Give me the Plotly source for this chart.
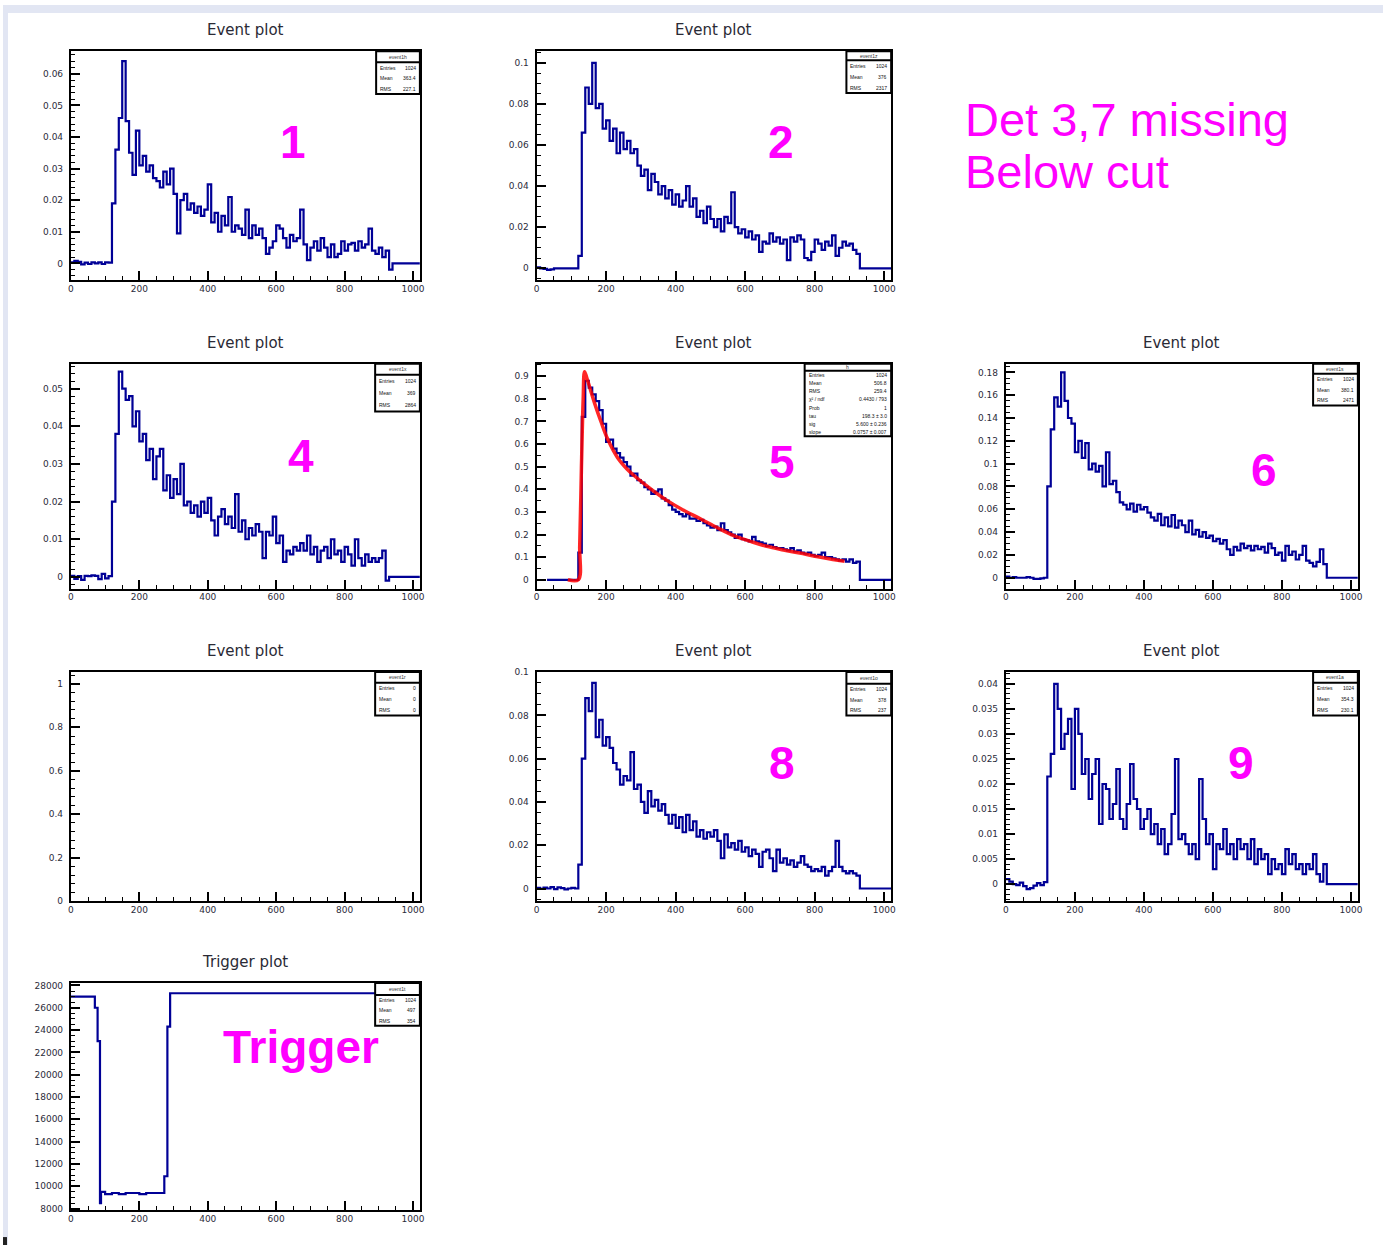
import plotly.graph_objects as go

FIG_W, FIG_H = 1388, 1250
STEP = 10          # sample spacing of the waveform histograms
X_END = 1020       # right end of the time axis

# ---- detector waveforms (one value per 10-unit bin, starting at x=0) ----
det1 = [
    0.0003, 0.0008, 0.0005, -0.0003, 0.0002, -0.0002, 0.0003, 0.0000, 0.0003, -0.0002, 0.0003, 0.0002,
    0.019, 0.036, 0.046, 0.064, 0.045, 0.035, 0.028, 0.042, 0.031, 0.034,
    0.029, 0.031, 0.027, 0.026, 0.024, 0.029, 0.025, 0.030, 0.022, 0.0095,
    0.020, 0.022, 0.017, 0.019, 0.016, 0.018, 0.015, 0.017, 0.025, 0.013,
    0.016, 0.010, 0.015, 0.012, 0.021, 0.010, 0.012, 0.011, 0.009, 0.017,
    0.008, 0.012, 0.009, 0.011, 0.008, 0.003, 0.005, 0.007, 0.012, 0.011,
    0.008, 0.005, 0.009, 0.007, 0.008, 0.017, 0.006, 0.001, 0.005, 0.007,
    0.004, 0.008, 0.005, 0.002, 0.006, 0.002, 0.003, 0.007, 0.004, 0.006,
    0.0065, 0.004, 0.007, 0.005, 0.006, 0.011, 0.004, 0.003, 0.005, 0.002,
    0.004, -0.002,
]
det2 = [
    0.0005, 0.0, -0.0003, -0.0008, -0.0005, 0.0, 0.0, 0.0, 0.0, 0.0, 0.0, 0.0,
    0.006, 0.066, 0.088, 0.080, 0.100, 0.078, 0.080, 0.068, 0.072, 0.062,
    0.068, 0.056, 0.066, 0.058, 0.062, 0.056, 0.058, 0.050, 0.045, 0.048,
    0.038, 0.046, 0.042, 0.036, 0.040, 0.034, 0.038, 0.031, 0.036, 0.030,
    0.033, 0.040, 0.030, 0.034, 0.025, 0.028, 0.022, 0.030, 0.024, 0.020,
    0.024, 0.018, 0.025, 0.022, 0.037, 0.020, 0.017, 0.019, 0.015, 0.018,
    0.014, 0.016, 0.008, 0.013, 0.012, 0.017, 0.013, 0.015, 0.012, 0.014,
    0.004, 0.015, 0.013, 0.016, 0.014, 0.005, 0.004, 0.008, 0.014, 0.012,
    0.009, 0.013, 0.011, 0.016, 0.006, 0.010, 0.013, 0.011, 0.012, 0.009, 0.007,
]
det4 = [
    0.0003, -0.0005, 0.0002, -0.0008, 0.0003, 0.0002, 0.0004, 0.0003, -0.0006, 0.0008, -0.0004, 0.0002,
    0.020, 0.038, 0.0545, 0.050, 0.047, 0.048, 0.040, 0.044, 0.036, 0.038,
    0.031, 0.034, 0.026, 0.032, 0.034, 0.023, 0.027, 0.021, 0.026, 0.022,
    0.030, 0.019, 0.020, 0.017, 0.019, 0.016, 0.020, 0.017, 0.021, 0.015,
    0.011, 0.016, 0.018, 0.014, 0.016, 0.013, 0.022, 0.012, 0.015, 0.010,
    0.013, 0.011, 0.014, 0.012, 0.005, 0.012, 0.011, 0.016, 0.009, 0.011,
    0.004, 0.007, 0.006, 0.008, 0.007, 0.009, 0.007, 0.011, 0.006, 0.008,
    0.004, 0.007, 0.008, 0.005, 0.010, 0.006, 0.007, 0.004, 0.008, 0.006,
    0.003, 0.010, 0.005, 0.003, 0.006, 0.004, 0.005, 0.004, 0.005, 0.007, -0.001,
]
det5_start = 30
det5 = [
    0.0, 0.0, 0.0, 0.0, 0.0, 0.0, 0.0, 0.0, 0.0,
    0.12, 0.72, 0.88, 0.85, 0.82, 0.79, 0.75, 0.69, 0.61, 0.62,
    0.58, 0.56, 0.54, 0.52, 0.50, 0.46, 0.47, 0.44, 0.43, 0.41,
    0.40, 0.38, 0.39, 0.40, 0.36, 0.35, 0.33, 0.31, 0.30, 0.29,
    0.28, 0.29, 0.27, 0.27, 0.26, 0.265, 0.25, 0.24, 0.23, 0.235,
    0.22, 0.25, 0.22, 0.21, 0.20, 0.185, 0.20, 0.18, 0.175, 0.17,
    0.19, 0.17, 0.165, 0.16, 0.15, 0.155, 0.145, 0.14, 0.14, 0.135,
    0.13, 0.14, 0.125, 0.13, 0.12, 0.115, 0.12, 0.11, 0.105, 0.11,
    0.12, 0.10, 0.10, 0.095, 0.09, 0.085, 0.09, 0.08, 0.09, 0.075, 0.08,
]
det6 = [
    0.001, 0.0, 0.0005, 0.0, 0.0, 0.0, 0.0005, 0.0, -0.001, -0.001, -0.0005, 0.0,
    0.08, 0.13, 0.158, 0.15, 0.18, 0.155, 0.14, 0.135, 0.11, 0.12,
    0.105, 0.118, 0.095, 0.10, 0.093, 0.098, 0.08, 0.11, 0.082, 0.085,
    0.075, 0.066, 0.064, 0.060, 0.065, 0.058, 0.064, 0.060, 0.062, 0.057,
    0.053, 0.050, 0.056, 0.046, 0.053, 0.045, 0.055, 0.044, 0.050, 0.046,
    0.040, 0.050, 0.038, 0.042, 0.036, 0.040, 0.035, 0.037, 0.032, 0.034,
    0.030, 0.033, 0.025, 0.020, 0.027, 0.024, 0.030, 0.026, 0.028, 0.024,
    0.028, 0.025, 0.027, 0.022, 0.030, 0.026, 0.020, 0.022, 0.015, 0.028,
    0.020, 0.023, 0.016, 0.020, 0.028, 0.015, 0.013, 0.010, 0.014, 0.025, 0.012,
]
det8 = [
    0.0003, -0.0002, 0.0004, 0.0, 0.0006, -0.0003, 0.0005, 0.0002, -0.0004, 0.0, 0.0003, 0.0,
    0.011, 0.060, 0.088, 0.082, 0.095, 0.070, 0.078, 0.066, 0.070, 0.065,
    0.058, 0.055, 0.048, 0.052, 0.050, 0.063, 0.046, 0.048, 0.040, 0.035,
    0.045, 0.038, 0.041, 0.036, 0.039, 0.034, 0.030, 0.034, 0.028, 0.033,
    0.026, 0.034, 0.027, 0.031, 0.024, 0.027, 0.023, 0.026, 0.024, 0.027,
    0.022, 0.014, 0.025, 0.019, 0.021, 0.018, 0.022, 0.017, 0.019, 0.015,
    0.018, 0.016, 0.010, 0.017, 0.018, 0.014, 0.008, 0.018, 0.012, 0.014,
    0.011, 0.013, 0.010, 0.012, 0.015, 0.011, 0.010, 0.008, 0.009, 0.008,
    0.010, 0.006, 0.008, 0.010, 0.022, 0.010, 0.008, 0.007, 0.008, 0.007, 0.006,
]
det9 = [
    0.001, 0.0005, 0.0, -0.0002, 0.0003, -0.0004, -0.001, -0.0008, -0.0003, 0.0002, -0.0002, 0.0004,
    0.0215, 0.026, 0.040, 0.035, 0.027, 0.030, 0.033, 0.019, 0.035, 0.030,
    0.022, 0.025, 0.017, 0.022, 0.025, 0.012, 0.020, 0.019, 0.013, 0.016,
    0.023, 0.013, 0.011, 0.016, 0.024, 0.017, 0.015, 0.011, 0.013, 0.015,
    0.010, 0.012, 0.008, 0.011, 0.006, 0.008, 0.014, 0.025, 0.009, 0.010,
    0.008, 0.006, 0.008, 0.005, 0.021, 0.013, 0.008, 0.010, 0.003, 0.008,
    0.007, 0.011, 0.006, 0.008, 0.005, 0.009, 0.007, 0.008, 0.005, 0.009,
    0.004, 0.007, 0.005, 0.006, 0.002, 0.005, 0.003, 0.004, 0.002, 0.007,
    0.004, 0.006, 0.003, 0.004, 0.002, 0.004, 0.003, 0.006, 0.002, 0.0005, 0.004,
]

# fitted pulse shape over detector 5
fit5_x = [90, 120, 124, 129, 134, 138, 145, 167, 185, 205, 233, 260, 281, 330, 376,
          420, 471, 520, 567, 615, 662, 710, 757, 805, 852, 886]
fit5_y = [0.0, 0.0, 0.15, 0.50, 0.80, 0.92, 0.89, 0.78, 0.70, 0.62, 0.54, 0.49, 0.46, 0.40, 0.35,
          0.31, 0.27, 0.23, 0.195, 0.17, 0.148, 0.132, 0.118, 0.103, 0.09, 0.082]

# trigger level (bin start, value)
trig_x = [0, 70, 78, 85, 88, 100, 120, 140, 160, 180, 200, 220, 240, 273, 282, 290]
trig_y = [27000, 26000, 23000, 8500, 9500, 9300, 9400, 9300, 9400, 9400, 9300, 9400, 9400,
          10900, 24300, 27300]
trig_tail = 27000

# ---- page geometry (pixels) ----
COLS = {1: (68.3, 419.3), 2: (536.7, 893.3), 3: (1008.7, 1362.7)}
ROWS = {1: (46.7, 277.0), 2: (361.7, 588.3), 3: (672.3, 903.3), 4: (986.0, 1215.0)}

def px(x):
    return x / FIG_W

def py(y):
    return 1 - y / FIG_H

BLUE = "#000096"
MAGENTA = "#ff00ff"
TICK_FONT = dict(family="DejaVu Sans, Verdana, sans-serif", size=9, color="#2b2b3a")
TITLE_FONT = dict(family="DejaVu Sans, Verdana, sans-serif", size=15, color="#2a2a35")

panels = [
    # key, row, col, y-range, dtick, minor, title, stats header, stats rows, box (w, h, header)
    dict(key="1", row=1, col=1, yr=[-0.0052, 0.0671], dt=0.01, mn=0.002, title="Event plot",
         head="event1h", stats=[("Entries", "1024"), ("Mean", "363.4"), ("RMS", "227.1")],
         box=(44, 43, 11), tag=(292, 138)),
    dict(key="2", row=1, col=2, yr=[-0.0056, 0.1056], dt=0.02, mn=0.005, title="Event plot",
         head="event1z", stats=[("Entries", "1024"), ("Mean", "376"), ("RMS", "2317")],
         box=(45, 42, 9), tag=(783, 138)),
    dict(key="4", row=2, col=1, yr=[-0.0031, 0.0566], dt=0.01, mn=0.002, title="Event plot",
         head="event1x", stats=[("Entries", "1024"), ("Mean", "369"), ("RMS", "2864")],
         box=(45, 48, 11), tag=(300, 455)),
    dict(key="5", row=2, col=2, yr=[-0.039, 0.955], dt=0.1, mn=0.05, title="Event plot",
         head="h", stats=[("Entries", "1024"), ("Mean", "506.8"), ("RMS", "259.4"),
                          ("\u03c7\u00b2 / ndf", "0.4430 / 793"), ("Prob", "1"),
                          ("tau", "198.3 \u00b1 3.0"), ("sig", "5.600 \u00b1 0.236"),
                          ("slope", "0.0757 \u00b1 0.007")],
         box=(87, 73, 7), tag=(784, 461)),
    dict(key="6", row=2, col=3, yr=[-0.0095, 0.1875], dt=0.02, mn=0.005, title="Event plot",
         head="event1s", stats=[("Entries", "1024"), ("Mean", "380.1"), ("RMS", "2471")],
         box=(45, 42, 10), tag=(1268, 469)),
    dict(key="7", row=3, col=1, yr=[0, 1.055], dt=0.2, mn=0.04, title="Event plot",
         head="event1r", stats=[("Entries", "0"), ("Mean", "0"), ("RMS", "0")],
         box=(45, 44, 11), tag=None),
    dict(key="8", row=3, col=2, yr=[-0.0058, 0.1001], dt=0.02, mn=0.005, title="Event plot",
         head="event1o", stats=[("Entries", "1024"), ("Mean", "378"), ("RMS", "237")],
         box=(45, 44, 12), tag=(784, 764)),
    dict(key="9", row=3, col=3, yr=[-0.0034, 0.0424], dt=0.005, mn=0.001, title="Event plot",
         head="event1a", stats=[("Entries", "1024"), ("Mean", "354.3"), ("RMS", "230.1")],
         box=(45, 44, 11), tag=(1245, 764)),
    dict(key="T", row=4, col=1, yr=[7852, 28207], dt=2000, mn=500, title="Trigger plot",
         head="event1t", stats=[("Entries", "1024"), ("Mean", "497"), ("RMS", "354")],
         box=(45, 43, 12), tag=(300, 1050)),
]

waves = {"1": (det1, 0), "2": (det2, 0), "4": (det4, 0), "5": (det5, det5_start),
         "6": (det6, 0), "8": (det8, 0), "9": (det9, 0)}


def step_xy(vals, start):
    xs = [start + STEP * i for i in range(len(vals))]
    xs += [start + STEP * len(vals), X_END]
    ys = list(vals) + [0.0, 0.0]
    return xs, ys


fig = go.Figure()
layout = dict(
    width=FIG_W, height=FIG_H, margin=dict(l=0, r=0, t=0, b=0),
    paper_bgcolor="white", plot_bgcolor="white", showlegend=False,
)
annotations = []
shapes = [
    # slide background edges
    dict(type="rect", xref="paper", yref="paper", x0=0, x1=px(5), y0=0, y1=1,
         fillcolor="#e2e6f3", line=dict(width=0), layer="below"),
    dict(type="rect", xref="paper", yref="paper", x0=0, x1=1, y0=py(8), y1=1,
         fillcolor="#e2e6f3", line=dict(width=0), layer="below"),
    dict(type="rect", xref="paper", yref="paper", x0=0, x1=px(4), y0=0, y1=py(1242),
         fillcolor="#222222", line=dict(width=0)),
]

for i, p in enumerate(panels, start=1):
    sx = "" if i == 1 else str(i)
    xa, ya = f"x{sx}", f"y{sx}"
    x0, x1 = COLS[p["col"]]
    y0, y1 = ROWS[p["row"]]

    layout[f"xaxis{sx}"] = dict(
        domain=[px(x0), px(x1)], anchor=ya, range=[0, X_END],
        tick0=0, dtick=200, ticks="inside", ticklen=9, tickwidth=1.5, tickcolor="black",
        minor=dict(dtick=50, tick0=0, ticks="inside", ticklen=4, tickwidth=1.2, tickcolor="black"),
        showline=True, mirror=True, linecolor="black", linewidth=2,
        showgrid=False, zeroline=False, tickfont=TICK_FONT, ticklabelstandoff=-1,
    )
    yfmt = dict(tickformat="d") if p["key"] == "T" else {}
    layout[f"yaxis{sx}"] = dict(
        domain=[py(y1), py(y0)], anchor=xa, range=p["yr"],
        tick0=0, dtick=p["dt"], ticks="inside", ticklen=9, tickwidth=1.5, tickcolor="black",
        minor=dict(dtick=p["mn"], tick0=0, ticks="inside", ticklen=4, tickwidth=1.2, tickcolor="black"),
        showline=True, mirror=True, linecolor="black", linewidth=2,
        showgrid=False, zeroline=False, tickfont=TICK_FONT, ticklabelstandoff=4, **yfmt,
    )

    # histogram trace
    if p["key"] in waves:
        vals, start = waves[p["key"]]
        xs, ys = step_xy(vals, start)
        fig.add_trace(go.Scatter(x=xs, y=ys, mode="lines", line_shape="hv",
                                 line=dict(color=BLUE, width=2.2), xaxis=xa, yaxis=ya,
                                 hoverinfo="skip"))
    elif p["key"] == "7":
        # empty pad: an invisible trace keeps the frame and axes drawn
        fig.add_trace(go.Scatter(x=[0], y=[0], mode="markers", marker=dict(opacity=0),
                                 xaxis=xa, yaxis=ya, hoverinfo="skip"))
    if p["key"] == "5":
        fig.add_trace(go.Scatter(x=fit5_x, y=fit5_y, mode="lines", line_shape="spline",
                                 line=dict(color="rgba(255,0,0,0.85)", width=3.5),
                                 xaxis=xa, yaxis=ya, hoverinfo="skip"))
    if p["key"] == "T":
        xs = trig_x + [X_END]
        ys = trig_y + [trig_tail]
        fig.add_trace(go.Scatter(x=xs, y=ys, mode="lines", line_shape="hv",
                                 line=dict(color=BLUE, width=2.2), xaxis=xa, yaxis=ya,
                                 hoverinfo="skip"))

    # pad title
    annotations.append(dict(
        text=p["title"], x=px((x0 + x1) / 2), y=py(y0 - 21), xref="paper", yref="paper",
        xanchor="center", yanchor="middle", showarrow=False, font=TITLE_FONT,
    ))

    # statistics box
    bw, bh, bhh = p["box"]
    bx0, bx1 = x1 - bw, x1
    by0, by1 = y0, y0 + bh
    shapes.append(dict(type="rect", xref="paper", yref="paper",
                       x0=px(bx0), x1=px(bx1), y0=py(by1), y1=py(by0),
                       fillcolor="white", line=dict(color="black", width=2)))
    shapes.append(dict(type="line", xref="paper", yref="paper",
                       x0=px(bx0), x1=px(bx1), y0=py(by0 + bhh), y1=py(by0 + bhh),
                       line=dict(color="black", width=2)))
    annotations.append(dict(
        text=p["head"], x=px((bx0 + bx1) / 2), y=py(by0 + bhh / 2), xref="paper", yref="paper",
        xanchor="center", yanchor="middle", showarrow=False,
        font=dict(family="Liberation Sans, Arial", size=5, color="#333"),
    ))
    nrow = len(p["stats"])
    rh = (bh - bhh) / nrow
    for j, (lab, val) in enumerate(p["stats"]):
        yc = by0 + bhh + rh * (j + 0.5)
        annotations.append(dict(text=lab, x=px(bx0 + 2), y=py(yc), xref="paper", yref="paper",
                                xanchor="left", yanchor="middle", showarrow=False,
                                font=dict(family="Liberation Sans, Arial", size=5, color="#111")))
        annotations.append(dict(text=val, x=px(bx1 - 2), y=py(yc), xref="paper", yref="paper",
                                xanchor="right", yanchor="middle", showarrow=False,
                                font=dict(family="Liberation Sans, Arial", size=5, color="#111")))

    # detector label
    if p["tag"] is not None:
        tx, ty = p["tag"]
        label = "Trigger" if p["key"] == "T" else p["key"]
        annotations.append(dict(
            text=f"<b>{label}</b>", x=px(tx), y=py(ty), xref="paper", yref="paper",
            xanchor="center", yanchor="middle", showarrow=False,
            font=dict(family="Liberation Sans, Arial, sans-serif", size=46, color=MAGENTA),
        ))

# note about the missing detectors
for txt, yc in (("Det 3,7 missing", 115), ("Below cut", 168)):
    annotations.append(dict(
        text=txt, x=px(966), y=py(yc), xref="paper", yref="paper",
        xanchor="left", yanchor="middle", showarrow=False,
        font=dict(family="Liberation Sans, Arial, sans-serif", size=47, color=MAGENTA),
    ))

layout["annotations"] = annotations
layout["shapes"] = shapes
fig.update_layout(**layout)
fig.write_html("out.html")
